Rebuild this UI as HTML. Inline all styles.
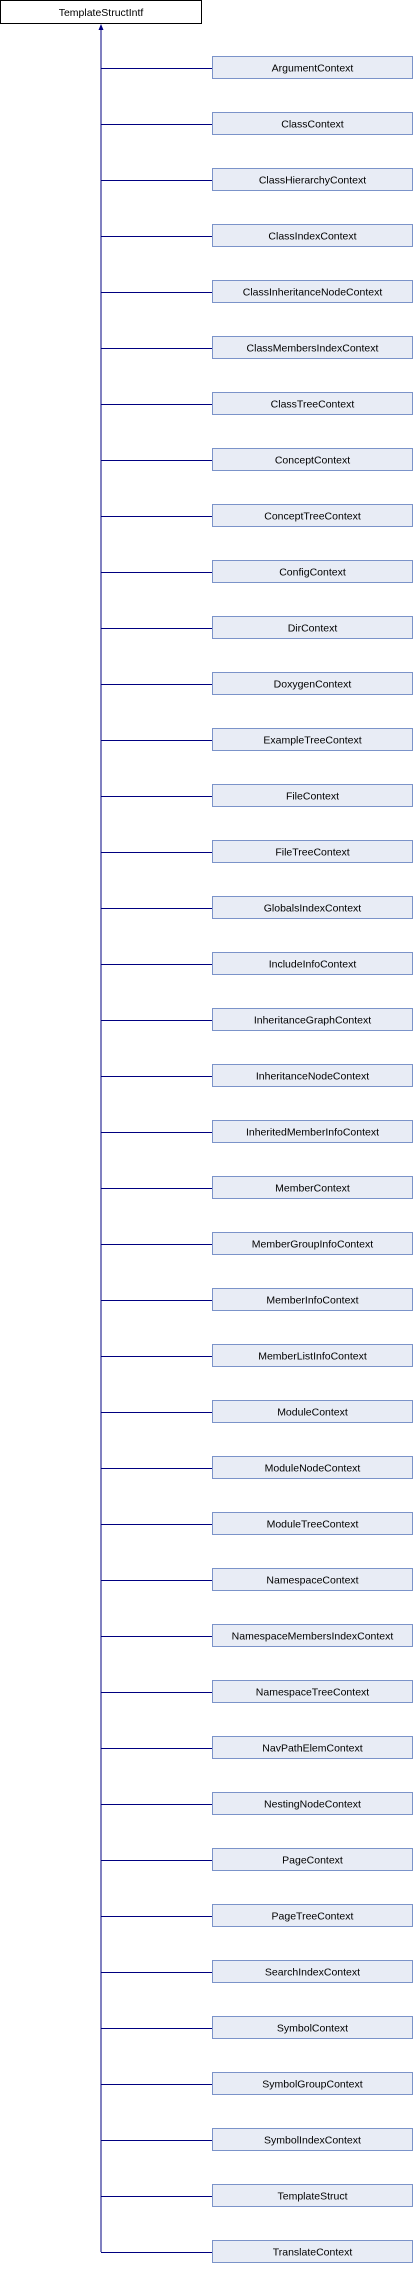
<!DOCTYPE html>
<html><head><meta charset="utf-8"><style>
html,body{margin:0;padding:0;background:#fff}
svg text{font-family:"Liberation Sans",Arial,sans-serif;font-size:10.5px;fill:#000}
</style></head><body>
<svg width="414" height="2264" viewBox="0 0 414 2264" xmlns="http://www.w3.org/2000/svg">
<rect x="0.5" y="0.5" width="201" height="23" fill="#fff" stroke="#000"/>
<text x="101" y="16" text-anchor="middle">TemplateStructIntf</text>
<line x1="101" y1="29" x2="101" y2="2252" stroke="#000080"/>
<polygon points="101,24 98.5,30 103.5,30" fill="#000080"/>
<g stroke="#000080">
<line x1="101" y1="68.5" x2="212" y2="68.5"/><line x1="101" y1="124.5" x2="212" y2="124.5"/><line x1="101" y1="180.5" x2="212" y2="180.5"/><line x1="101" y1="236.5" x2="212" y2="236.5"/><line x1="101" y1="292.5" x2="212" y2="292.5"/><line x1="101" y1="348.5" x2="212" y2="348.5"/><line x1="101" y1="404.5" x2="212" y2="404.5"/><line x1="101" y1="460.5" x2="212" y2="460.5"/><line x1="101" y1="516.5" x2="212" y2="516.5"/><line x1="101" y1="572.5" x2="212" y2="572.5"/>
<line x1="101" y1="628.5" x2="212" y2="628.5"/><line x1="101" y1="684.5" x2="212" y2="684.5"/><line x1="101" y1="740.5" x2="212" y2="740.5"/><line x1="101" y1="796.5" x2="212" y2="796.5"/><line x1="101" y1="852.5" x2="212" y2="852.5"/><line x1="101" y1="908.5" x2="212" y2="908.5"/><line x1="101" y1="964.5" x2="212" y2="964.5"/><line x1="101" y1="1020.5" x2="212" y2="1020.5"/><line x1="101" y1="1076.5" x2="212" y2="1076.5"/><line x1="101" y1="1132.5" x2="212" y2="1132.5"/>
<line x1="101" y1="1188.5" x2="212" y2="1188.5"/><line x1="101" y1="1244.5" x2="212" y2="1244.5"/><line x1="101" y1="1300.5" x2="212" y2="1300.5"/><line x1="101" y1="1356.5" x2="212" y2="1356.5"/><line x1="101" y1="1412.5" x2="212" y2="1412.5"/><line x1="101" y1="1468.5" x2="212" y2="1468.5"/><line x1="101" y1="1524.5" x2="212" y2="1524.5"/><line x1="101" y1="1580.5" x2="212" y2="1580.5"/><line x1="101" y1="1636.5" x2="212" y2="1636.5"/><line x1="101" y1="1692.5" x2="212" y2="1692.5"/>
<line x1="101" y1="1748.5" x2="212" y2="1748.5"/><line x1="101" y1="1804.5" x2="212" y2="1804.5"/><line x1="101" y1="1860.5" x2="212" y2="1860.5"/><line x1="101" y1="1916.5" x2="212" y2="1916.5"/><line x1="101" y1="1972.5" x2="212" y2="1972.5"/><line x1="101" y1="2028.5" x2="212" y2="2028.5"/><line x1="101" y1="2084.5" x2="212" y2="2084.5"/><line x1="101" y1="2140.5" x2="212" y2="2140.5"/><line x1="101" y1="2196.5" x2="212" y2="2196.5"/><line x1="101" y1="2252.5" x2="212" y2="2252.5"/>
</g>
<g fill="#e8ecf5" stroke="#7b93c9">
<rect x="212.5" y="56.5" width="200" height="22"/><rect x="212.5" y="112.5" width="200" height="22"/><rect x="212.5" y="168.5" width="200" height="22"/><rect x="212.5" y="224.5" width="200" height="22"/><rect x="212.5" y="280.5" width="200" height="22"/><rect x="212.5" y="336.5" width="200" height="22"/><rect x="212.5" y="392.5" width="200" height="22"/><rect x="212.5" y="448.5" width="200" height="22"/><rect x="212.5" y="504.5" width="200" height="22"/><rect x="212.5" y="560.5" width="200" height="22"/>
<rect x="212.5" y="616.5" width="200" height="22"/><rect x="212.5" y="672.5" width="200" height="22"/><rect x="212.5" y="728.5" width="200" height="22"/><rect x="212.5" y="784.5" width="200" height="22"/><rect x="212.5" y="840.5" width="200" height="22"/><rect x="212.5" y="896.5" width="200" height="22"/><rect x="212.5" y="952.5" width="200" height="22"/><rect x="212.5" y="1008.5" width="200" height="22"/><rect x="212.5" y="1064.5" width="200" height="22"/><rect x="212.5" y="1120.5" width="200" height="22"/>
<rect x="212.5" y="1176.5" width="200" height="22"/><rect x="212.5" y="1232.5" width="200" height="22"/><rect x="212.5" y="1288.5" width="200" height="22"/><rect x="212.5" y="1344.5" width="200" height="22"/><rect x="212.5" y="1400.5" width="200" height="22"/><rect x="212.5" y="1456.5" width="200" height="22"/><rect x="212.5" y="1512.5" width="200" height="22"/><rect x="212.5" y="1568.5" width="200" height="22"/><rect x="212.5" y="1624.5" width="200" height="22"/><rect x="212.5" y="1680.5" width="200" height="22"/>
<rect x="212.5" y="1736.5" width="200" height="22"/><rect x="212.5" y="1792.5" width="200" height="22"/><rect x="212.5" y="1848.5" width="200" height="22"/><rect x="212.5" y="1904.5" width="200" height="22"/><rect x="212.5" y="1960.5" width="200" height="22"/><rect x="212.5" y="2016.5" width="200" height="22"/><rect x="212.5" y="2072.5" width="200" height="22"/><rect x="212.5" y="2128.5" width="200" height="22"/><rect x="212.5" y="2184.5" width="200" height="22"/><rect x="212.5" y="2240.5" width="200" height="22"/>
</g>
<g text-anchor="middle">
<text x="312.5" y="71.5">ArgumentContext</text><text x="312.5" y="127.5">ClassContext</text><text x="312.5" y="183.5">ClassHierarchyContext</text><text x="312.5" y="239.5">ClassIndexContext</text><text x="312.5" y="295.5">ClassInheritanceNodeContext</text><text x="312.5" y="351.5">ClassMembersIndexContext</text><text x="312.5" y="407.5">ClassTreeContext</text><text x="312.5" y="463.5">ConceptContext</text><text x="312.5" y="519.5">ConceptTreeContext</text><text x="312.5" y="575.5">ConfigContext</text>
<text x="312.5" y="631.5">DirContext</text><text x="312.5" y="687.5">DoxygenContext</text><text x="312.5" y="743.5">ExampleTreeContext</text><text x="312.5" y="799.5">FileContext</text><text x="312.5" y="855.5">FileTreeContext</text><text x="312.5" y="911.5">GlobalsIndexContext</text><text x="312.5" y="967.5">IncludeInfoContext</text><text x="312.5" y="1023.5">InheritanceGraphContext</text><text x="312.5" y="1079.5">InheritanceNodeContext</text><text x="312.5" y="1135.5">InheritedMemberInfoContext</text>
<text x="312.5" y="1191.5">MemberContext</text><text x="312.5" y="1247.5">MemberGroupInfoContext</text><text x="312.5" y="1303.5">MemberInfoContext</text><text x="312.5" y="1359.5">MemberListInfoContext</text><text x="312.5" y="1415.5">ModuleContext</text><text x="312.5" y="1471.5">ModuleNodeContext</text><text x="312.5" y="1527.5">ModuleTreeContext</text><text x="312.5" y="1583.5">NamespaceContext</text><text x="312.5" y="1639.5">NamespaceMembersIndexContext</text><text x="312.5" y="1695.5">NamespaceTreeContext</text>
<text x="312.5" y="1751.5">NavPathElemContext</text><text x="312.5" y="1807.5">NestingNodeContext</text><text x="312.5" y="1863.5">PageContext</text><text x="312.5" y="1919.5">PageTreeContext</text><text x="312.5" y="1975.5">SearchIndexContext</text><text x="312.5" y="2031.5">SymbolContext</text><text x="312.5" y="2087.5">SymbolGroupContext</text><text x="312.5" y="2143.5">SymbolIndexContext</text><text x="312.5" y="2199.5">TemplateStruct</text><text x="312.5" y="2255.5">TranslateContext</text>
</g>
</svg>
</body></html>
